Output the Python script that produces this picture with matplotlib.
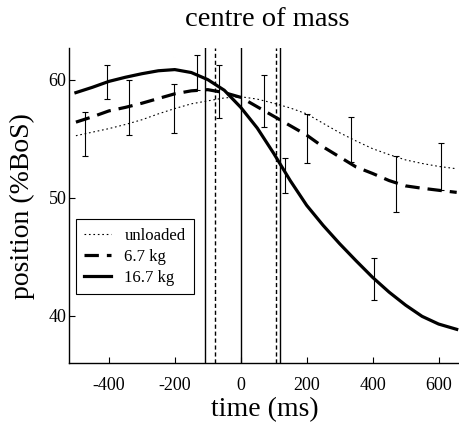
import matplotlib
matplotlib.use("Agg")
import matplotlib.pyplot as plt
import numpy as np

plt.rcParams['font.family'] = ['Liberation Serif', 'DejaVu Serif']
plt.rcParams['axes.unicode_minus'] = False

# mean trajectories (time in ms, position in %BoS)
time = [-500, -450, -400, -350, -300, -250, -200, -150, -100, -50, 0, 50,
        100, 150, 200, 250, 300, 350, 400, 450, 500, 550, 600, 655]
unloaded = [55.25, 55.55, 55.85, 56.2, 56.6, 57.1, 57.55, 57.95, 58.2, 58.45,
            58.55, 58.35, 58.0, 57.6, 57.1, 56.3, 55.5, 54.8, 54.15, 53.65,
            53.2, 52.9, 52.65, 52.45]
load_67 = [56.4, 56.85, 57.35, 57.65, 58.0, 58.4, 58.8, 59.05, 59.15, 58.9,
           58.5, 57.7, 56.9, 56.1, 55.3, 54.3, 53.45, 52.6, 52.05, 51.45,
           51.0, 50.8, 50.63, 50.45]
load_167 = [58.9, 59.35, 59.85, 60.2, 60.5, 60.75, 60.85, 60.6, 60.0, 59.1,
            57.65, 55.9, 53.75, 51.45, 49.35, 47.65, 46.1, 44.65, 43.25, 42.0,
            40.9, 39.95, 39.3, 38.85]

# error bars (time, mean, half range)
eb_unl_t = [-471, -202, 69, 335, 606]
eb_unl_m = [55.4, 57.57, 58.17, 54.93, 52.65]
eb_unl_e = [1.83, 2.09, 2.18, 1.9, 2.02]
eb_67_t = [-338, -67, 201, 472]
eb_67_m = [57.65, 59.02, 55.02, 51.15]
eb_67_e = [2.3, 2.25, 2.04, 2.35]
eb_167_t = [-405, -134, 133, 404]
eb_167_m = [59.8, 60.58, 51.88, 43.1]
eb_167_e = [1.4, 1.48, 1.52, 1.8]

# event markers
events_solid = [-107, 0, 118]
events_dashed = [-77, 108]

fig = plt.figure(figsize=(4.6, 4.24), dpi=100)
ax = fig.add_axes([0.1507, 0.1439, 0.8493, 0.7421])

for x in events_solid:
    ax.axvline(x, color='black', lw=1.0)
for x in events_dashed:
    ax.axvline(x, color='black', lw=1.0, linestyle=(0, (3, 2)))

ax.plot(time, unloaded, color='black', lw=0.8, linestyle=(0, (1.5, 2.5)), label='unloaded')
ax.plot(time, load_67, color='black', lw=2.3, linestyle=(0, (4.5, 2.5)), label='6.7 kg')
ax.plot(time, load_167, color='black', lw=2.3, label='16.7 kg')

for t, m, e in [(eb_unl_t, eb_unl_m, eb_unl_e), (eb_67_t, eb_67_m, eb_67_e),
                (eb_167_t, eb_167_m, eb_167_e)]:
    ax.errorbar(t, m, yerr=e, fmt='none', ecolor='black', elinewidth=0.8,
                capsize=2.5, capthick=0.8)

ax.set_xlim(-520, 665)
ax.set_ylim(36, 62.65)
ax.set_xticks([-400, -200, 0, 200, 400, 600])
ax.set_yticks([40, 50, 60])
ax.spines['top'].set_visible(False)
ax.spines['right'].set_visible(False)
ax.spines['left'].set_linewidth(1.0)
ax.spines['bottom'].set_linewidth(1.0)
ax.tick_params(direction='in', length=4, width=0.8, labelsize=13)
ax.tick_params(axis='x', pad=10)
ax.tick_params(axis='y', pad=2)

ax.set_xlabel('time (ms)', fontsize=20, labelpad=2)
ax.set_ylabel('position (%BoS)', fontsize=20, labelpad=10)
fig.text(0.58, 1 - 20 / 424, 'centre of mass', fontsize=20.5, ha='center', va='center')

leg = ax.legend(loc='upper left', bbox_to_anchor=(0.017, 0.4566), borderaxespad=0,
                fontsize=12, handlelength=1.6, handletextpad=0.8, labelspacing=0.3,
                borderpad=0.5, fancybox=False, edgecolor='black', framealpha=1)
leg.get_frame().set_linewidth(0.8)

fig.savefig('out.png', dpi=100)
